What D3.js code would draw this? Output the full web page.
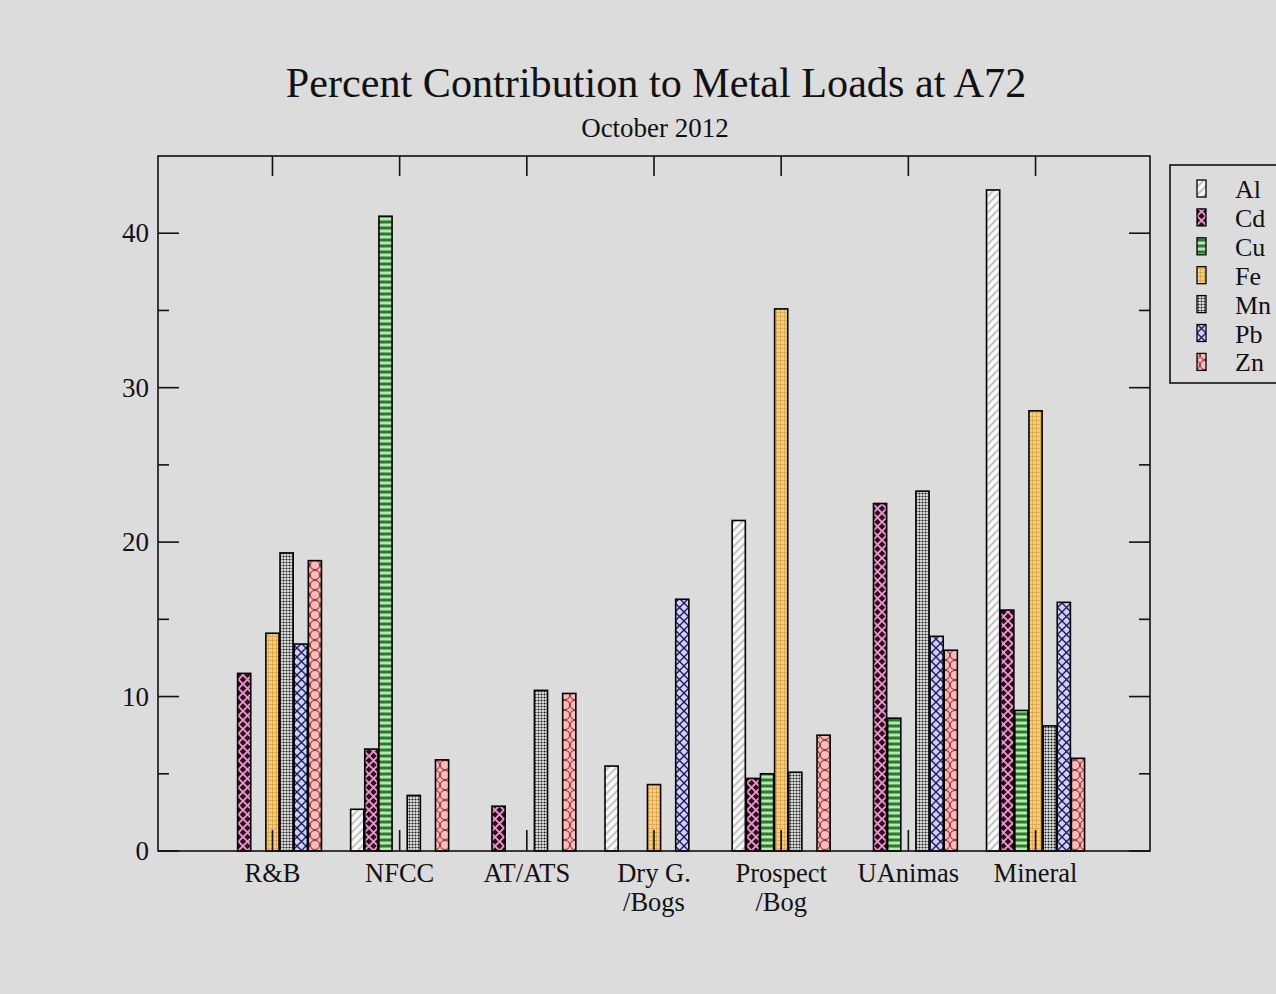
<!DOCTYPE html>
<html>
<head>
<meta charset="utf-8">
<script src="https://cdn.jsdelivr.net/npm/d3@7"></script>
<style>
  html, body { margin: 0; padding: 0; background: #dcdcdc; }
  svg { display: block; font-family: "Liberation Serif", "Times New Roman", serif; }
</style>
</head>
<body>
<svg id="chart" width="1276" height="994"></svg>
<script>
// Sites along the river (x categories), with line breaks for two-line labels
const sites = ["R&B", "NFCC", "AT/ATS", "Dry G.\n/Bogs", "Prospect\n/Bog", "UAnimas", "Mineral"];
const metals = ["Al", "Cd", "Cu", "Fe", "Mn", "Pb", "Zn"];

// Percent contribution of each site to the metal load, one array per metal
const Al = [0, 2.7, 0, 5.5, 21.4, 0, 42.8];
const Cd = [11.5, 6.6, 2.9, 0, 4.7, 22.5, 15.6];
const Cu = [0, 41.1, 0, 0, 5.0, 8.6, 9.1];
const Fe = [14.1, 0, 0, 4.3, 35.1, 0, 28.5];
const Mn = [19.3, 3.6, 10.4, 0, 5.1, 23.3, 8.1];
const Pb = [13.4, 0, 0, 16.3, 0, 13.9, 16.1];
const Zn = [18.8, 5.9, 10.2, 0, 7.5, 13.0, 6.0];
const seriesValues = [Al, Cd, Cu, Fe, Mn, Pb, Zn];

const yMajorTicks = [0, 10, 20, 30, 40];
const yMinorTicks = [5, 15, 25, 35];

const title = "Percent Contribution to Metal Loads at A72";
const subtitle = "October 2012";

// ---- layout ----
const W = 1276, H = 994;
const plot = { left: 158, right: 1150, top: 156, bottom: 851 };

const svg = d3.select("#chart");
svg.append("rect").attr("width", W).attr("height", H).attr("fill", "#dcdcdc");

// ---- fill patterns, one per metal ----
const defs = svg.append("defs");
function pattern(id, w, h, draw) {
  const p = defs.append("pattern").attr("id", id)
    .attr("patternUnits", "userSpaceOnUse").attr("width", w).attr("height", h);
  draw(p, w, h);
}
pattern("pat-Al", 8, 8, (p, w, h) => {
  p.append("rect").attr("width", w).attr("height", h).attr("fill", "#fbfbfb");
  p.append("path").attr("d", "M-2,2 L2,-2 M0,8 L8,0 M6,10 L10,6")
    .attr("stroke", "#c4c4c4").attr("stroke-width", 2.2);
});
pattern("pat-Cd", 9, 9, (p, w, h) => {
  p.append("rect").attr("width", w).attr("height", h).attr("fill", "#360828");
  p.append("path").attr("d", "M0,0 L9,9 M9,0 L0,9")
    .attr("stroke", "#e49ac6").attr("stroke-width", 1.9);
});
pattern("pat-Cu", 6, 6, (p, w, h) => {
  p.append("rect").attr("width", w).attr("height", h).attr("fill", "#2c7a31");
  p.append("rect").attr("x", 0).attr("y", 1.5).attr("width", w).attr("height", 3).attr("fill", "#b4eaae");
});
pattern("pat-Fe", 4, 4, (p, w, h) => {
  p.append("rect").attr("width", w).attr("height", h).attr("fill", "#f8cd78");
  p.append("path").attr("d", "M0,0.5 H4 M0.5,0 V4")
    .attr("stroke", "#d9a24a").attr("stroke-width", 0.8);
});
pattern("pat-Mn", 3, 3, (p, w, h) => {
  p.append("rect").attr("width", w).attr("height", h).attr("fill", "#e6e6e6");
  p.append("circle").attr("cx", 1.5).attr("cy", 1.5).attr("r", 1.05).attr("fill", "#1a1a1a");
});
pattern("pat-Pb", 9, 9, (p, w, h) => {
  p.append("rect").attr("width", w).attr("height", h).attr("fill", "#d0d0fa");
  p.append("path").attr("d", "M0,0 L9,9 M9,0 L0,9")
    .attr("stroke", "#1c1c5e").attr("stroke-width", 1.4);
});
pattern("pat-Zn", 10, 10, (p, w, h) => {
  p.append("rect").attr("width", w).attr("height", h).attr("fill", "#f8bcbc");
  p.append("circle").attr("cx", 5).attr("cy", 5).attr("r", 4.6)
    .attr("fill", "none").attr("stroke", "#a23838").attr("stroke-width", 1.1);
});

// ---- scales ----
const x = d3.scaleLinear().domain([0.1, 7.9]).range([plot.left, plot.right]);
const y = d3.scaleLinear().domain([0, 45]).range([plot.bottom, plot.top]);
const offset = d3.scaleBand().domain(metals).range([-49, 49]).paddingInner(0.07);

// ---- title ----
svg.append("text").attr("x", (plot.left + plot.right) / 2 + 2).attr("y", 97)
  .attr("text-anchor", "middle").attr("font-size", 42.2).attr("fill", "#111").text(title);
svg.append("text").attr("x", (plot.left + plot.right) / 2 + 1).attr("y", 137)
  .attr("text-anchor", "middle").attr("font-size", 27).attr("fill", "#111").text(subtitle);

// ---- bars ----
const g = svg.append("g");
metals.forEach((m, si) => {
  const vals = seriesValues[si];
  g.append("g").selectAll("rect")
    .data(vals.map((v, i) => ({ v, i })).filter(d => d.v > 0))
    .join("rect")
    .attr("x", d => x(d.i + 1) + offset(m))
    .attr("y", d => y(d.v))
    .attr("width", offset.bandwidth())
    .attr("height", d => y(0) - y(d.v))
    .attr("fill", `url(#pat-${m})`)
    .attr("stroke", "#000").attr("stroke-width", 1.6);
});

// ---- frame and ticks ----
const axes = svg.append("g").attr("stroke", "#111").attr("stroke-width", 1.6).attr("fill", "none");
axes.append("rect").attr("x", plot.left).attr("y", plot.top)
  .attr("width", plot.right - plot.left).attr("height", plot.bottom - plot.top);

const majorLen = 21, minorLen = 11;
yMajorTicks.forEach(t => {
  axes.append("line").attr("x1", plot.left).attr("x2", plot.left + majorLen).attr("y1", y(t)).attr("y2", y(t));
  axes.append("line").attr("x1", plot.right).attr("x2", plot.right - majorLen).attr("y1", y(t)).attr("y2", y(t));
});
yMinorTicks.forEach(t => {
  axes.append("line").attr("x1", plot.left).attr("x2", plot.left + minorLen).attr("y1", y(t)).attr("y2", y(t));
  axes.append("line").attr("x1", plot.right).attr("x2", plot.right - minorLen).attr("y1", y(t)).attr("y2", y(t));
});
sites.forEach((s, i) => {
  const cx = x(i + 1);
  axes.append("line").attr("x1", cx).attr("x2", cx).attr("y1", plot.bottom).attr("y2", plot.bottom - majorLen);
  axes.append("line").attr("x1", cx).attr("x2", cx).attr("y1", plot.top).attr("y2", plot.top + majorLen - 1);
});

// ---- tick labels ----
svg.append("g").selectAll("text").data(yMajorTicks).join("text")
  .attr("x", plot.left - 9).attr("y", d => y(d) + 9)
  .attr("text-anchor", "end").attr("font-size", 27).attr("fill", "#111")
  .text(d => d);

const xl = svg.append("g").selectAll("text").data(sites).join("text")
  .attr("x", (d, i) => x(i + 1)).attr("y", 882)
  .attr("text-anchor", "middle").attr("font-size", 26.5).attr("fill", "#111");
xl.each(function (d, i) {
  d.split("\n").forEach((line, k) => {
    d3.select(this).append("tspan").attr("x", x(i + 1)).attr("dy", k === 0 ? 0 : 29).text(line);
  });
});

// ---- legend ----
const leg = svg.append("g");
leg.append("rect").attr("x", 1170).attr("y", 165).attr("width", 120).attr("height", 218)
  .attr("fill", "#dcdcdc").attr("stroke", "#111").attr("stroke-width", 1.6);
metals.forEach((m, i) => {
  const cy = 189 + i * 28.9;
  leg.append("rect").attr("x", 1197).attr("y", cy - 9).attr("width", 9).attr("height", 17)
    .attr("fill", `url(#pat-${m})`).attr("stroke", "#000").attr("stroke-width", 1.3);
  leg.append("text").attr("x", 1235).attr("y", cy + 9).attr("font-size", 26).attr("fill", "#111").text(m);
});
</script>
</body>
</html>
